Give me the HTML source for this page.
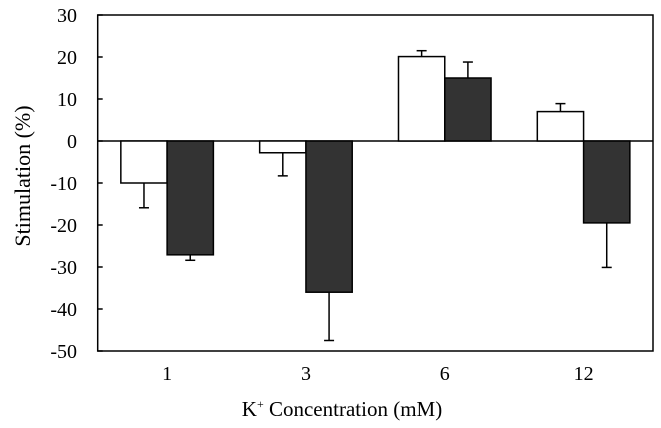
<!DOCTYPE html>
<html><head><meta charset="utf-8"><style>
html,body{margin:0;padding:0;background:#fff;}
svg{display:block;font-family:"Liberation Serif",serif;}
</style></head><body>
<svg id="chart" width="661" height="428"></svg>
<script>
const categories = ["1","3","6","12"];
const whiteValues = [-10, -2.8, 20.1, 7];
const whiteErrors = [-15.9, -8.3, 21.5, 8.9];
const darkValues = [-27.1, -36, 15, -19.5];
const darkErrors = [-28.4, -47.5, 18.8, -30.1];
const yTicks = [30, 20, 10, 0, -10, -20, -30, -40, -50];

const NS = "http://www.w3.org/2000/svg";
const svg = document.getElementById("chart");
const L = 97.7, R = 653, T = 15, B = 351, yMax = 30, yMin = -50;
const y = v => T + (yMax - v) / (yMax - yMin) * (B - T);
const gw = (R - L) / categories.length;
const xc = i => L + gw * (i + 0.5);
const bw = gw / 3;
function mk(tag, attrs, parent) {
  const e = document.createElementNS(NS, tag);
  for (const k in attrs) e.setAttribute(k, attrs[k]);
  (parent || svg).appendChild(e);
  return e;
}
const z = mk("line", {x1: L, x2: R, y1: y(0), y2: y(0), stroke: "#000", "stroke-width": 1.5});


function bars(vals, errs, fill, name, offset) {
  vals.forEach((v, i) => {
    const x0 = xc(i) + offset * bw;
    const cx = x0 + bw / 2;
    const eline = mk("line", {x1: cx, x2: cx, y1: y(v), y2: y(errs[i]), stroke: "#000", "stroke-width": 1.5});
    
    
    const cap = mk("line", {x1: cx - 5, x2: cx + 5, y1: y(errs[i]), y2: y(errs[i]), stroke: "#000", "stroke-width": 1.5});
    
    
    const r = mk("rect", {x: x0, width: bw, y: Math.min(y(v), y(0)), height: Math.abs(y(v) - y(0)), fill: fill, stroke: "#000", "stroke-width": 1.5});
    
    
  });
}
bars(whiteValues, whiteErrors, "#fff", "white-bar", -1);
bars(darkValues, darkErrors, "#333", "dark-bar", 0);
const f = mk("rect", {x: L, y: T, width: R - L, height: B - T, fill: "none", stroke: "#000", "stroke-width": 1.5});


yTicks.forEach(t => {
  const tk = mk("line", {x1: L, x2: L + 5, y1: y(t), y2: y(t), stroke: "#000", "stroke-width": 1.5});
  
  
  const tx = mk("text", {x: 77, y: y(t) + 7, "text-anchor": "end", "font-size": 20});
  tx.textContent = t;
  
  
});
categories.forEach((c, i) => {
  const tx = mk("text", {x: xc(i), y: 380, "text-anchor": "middle", "font-size": 20});
  tx.textContent = c;
  
  
});
const xt = mk("text", {x: 342, y: 416, "text-anchor": "middle", "font-size": 21});
xt.innerHTML = 'K<tspan dy="-8" font-size="12">+</tspan><tspan dy="8"> Concentration (mM)</tspan>';


const yt = mk("text", {x: 0, y: 0, "text-anchor": "middle", "font-size": 22, transform: "translate(30,176) rotate(-90)"});
yt.textContent = "Stimulation (%)";


</script>
</body></html>
